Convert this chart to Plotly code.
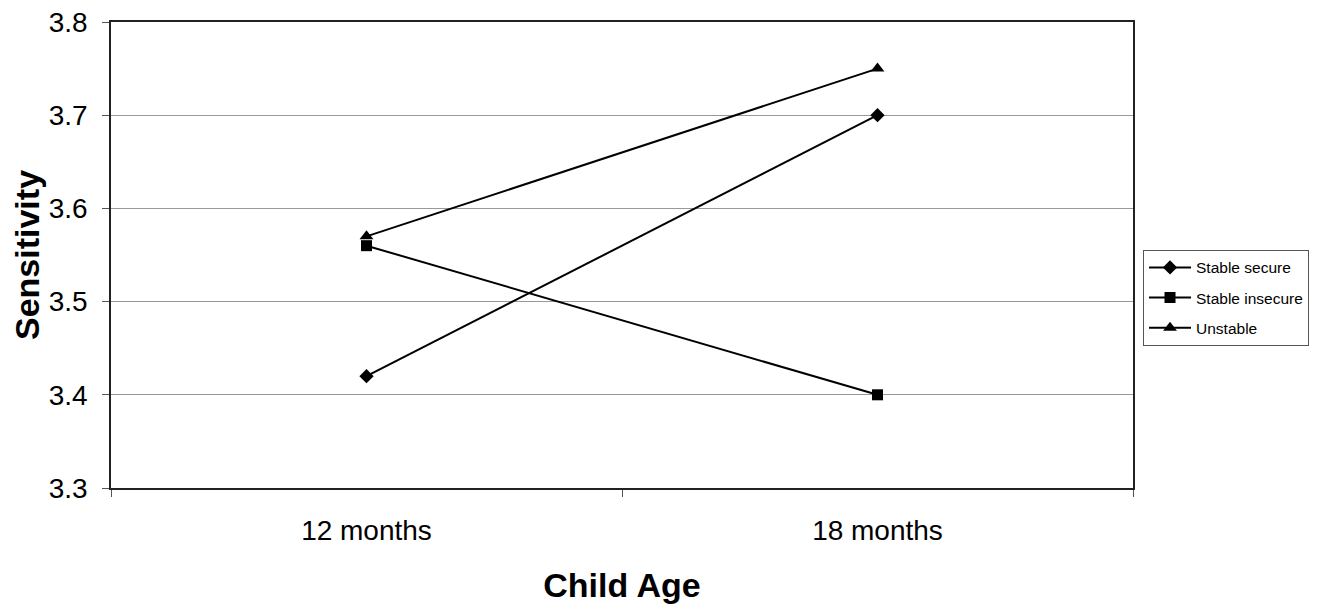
import plotly.graph_objects as go

categories = ["12 months", "18 months"]
stable_secure = [3.42, 3.70]
stable_insecure = [3.56, 3.40]
unstable = [3.57, 3.75]
y_ticks = [3.3, 3.4, 3.5, 3.6, 3.7, 3.8]

FONT = "Liberation Sans, Arial, sans-serif"

fig = go.Figure()
series = [
    ("Stable secure", stable_secure, "diamond", 11),
    ("Stable insecure", stable_insecure, "square", 11),
    ("Unstable", unstable, "triangle-up", 12),
]
for i, (name, vals, sym, sz) in enumerate(series):
    fig.add_trace(go.Scatter(
        x=categories, y=vals, name=name, mode="lines+markers",
        legendgroup=f"g{i}",
        line=dict(color="black", width=2),
        marker=dict(symbol=sym, size=sz, color="black"),
    ))

# page body adds an 8px margin, so the figure is 8px smaller than the window
fig.update_layout(
    width=1315, height=602,
    margin=dict(l=103, r=190, t=14, b=122, autoexpand=False),
    plot_bgcolor="white", paper_bgcolor="white",
    font=dict(family=FONT, color="black"),
    showlegend=True,
    legend=dict(
        x=1.0098, y=0.511, xanchor="left", yanchor="top",
        bordercolor="#555", borderwidth=1, bgcolor="white",
        font=dict(size=15.5, family=FONT),
        traceorder="grouped", tracegroupgap=7, itemwidth=42,
    ),
)
fig.update_xaxes(
    type="category", range=[-0.5, 1.5], tickson="boundaries",
    ticks="outside", ticklen=7, tickcolor="#555",
    showline=True, linecolor="#222", linewidth=1.5, mirror=True,
    showgrid=False, automargin=False,
    tickfont=dict(size=28, family=FONT),
    ticklabelstandoff=17,
    title=dict(text="<b>Child Age</b>", font=dict(size=34, family=FONT), standoff=28),
)
fig.update_yaxes(
    range=[3.3, 3.8], tickvals=y_ticks, ticktext=[f"{v:.1f}" for v in y_ticks],
    ticks="outside", ticklen=7, tickcolor="#555",
    showline=True, linecolor="#222", linewidth=1.5, mirror=True,
    showgrid=True, gridcolor="#999", gridwidth=1,
    zeroline=False, automargin=False,
    tickfont=dict(size=28, family=FONT),
    ticklabelstandoff=9, ticklabeloverflow="allow",
    title=dict(text="<b>Sensitivity</b>", font=dict(size=34, family=FONT), standoff=15),
)

fig.write_html("out.html")
